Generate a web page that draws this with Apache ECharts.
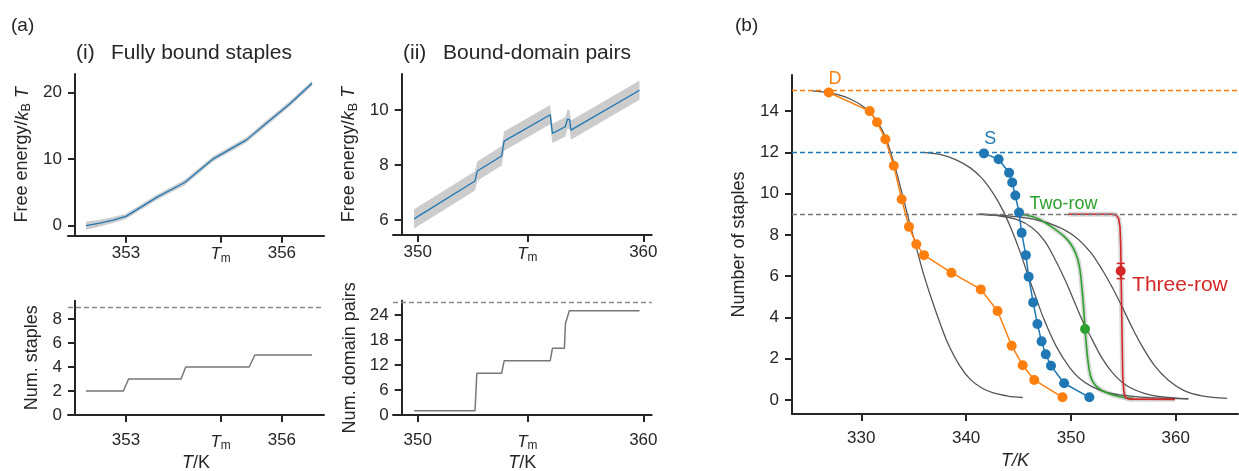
<!DOCTYPE html>
<html>
<head>
<meta charset="utf-8">
<script src="https://cdn.jsdelivr.net/npm/echarts@6/dist/echarts.min.js"></script>
<style>
html, body { margin: 0; padding: 0; background: #fff; }
#main { width: 1239px; height: 471px; }
</style>
</head>
<body>
<div id="main"></div>
<script>
// (a)(i) fully bound staples
var fe1T = [352.23, 352.5, 352.75, 353.0, 353.6, 354.13, 354.67, 355.32, 355.7, 356.15, 356.58]
var fe1 = [0.0, 0.4, 0.85, 1.4, 4.3, 6.5, 10.0, 12.9, 15.4, 18.3, 21.4]
var fe1Err = [0.6, 0.5, 0.45, 0.4, 0.4, 0.4, 0.4, 0.4, 0.4, 0.4, 0.4]
var stT = [352.23, 352.95, 353.05, 354.06, 354.15, 355.37, 355.48, 356.58]
var stN = [2, 2, 3, 3, 4, 4, 5, 5]
var stTotal = 9

// (a)(ii) bound-domain pairs
var fe2T = [349.84, 352.54, 352.64, 353.72, 353.83, 355.87, 355.97, 356.54, 356.64, 356.73, 356.79, 359.83]
var fe2 = [6.04, 7.42, 7.78, 8.33, 8.87, 9.83, 9.15, 9.39, 9.67, 9.65, 9.27, 10.72]
var fe2Err = [0.35, 0.35, 0.35, 0.35, 0.35, 0.35, 0.35, 0.35, 0.35, 0.35, 0.35, 0.35]
var dpT = [349.84, 352.54, 352.62, 353.72, 353.83, 355.87, 355.97, 356.5, 356.55, 356.62, 356.72, 359.83]
var dpN = [1, 1, 10, 10, 13, 13, 16, 16, 22, 22, 25, 25]
var dpTotal = 27

// melting temperature ticks
var tm1 = 354.82
var tm2 = 354.86
var ticks1X = [353, tm1, 356]
var ticks2X = [350, tm2, 360]
var ticks1Y = [0, 10, 20]
var ticks2Y = [6, 8, 10]
var ticks3Y = [0, 2, 4, 6, 8]
var ticks4Y = [0, 6, 12, 18, 24]

// (b) number of staples vs T
var dT = [326.9, 330.8, 331.5, 332.3, 333.1, 333.85, 334.55, 335.25, 335.98, 338.6, 341.4, 343.0, 344.35, 345.4, 346.5, 349.2]
var dN = [14.9, 14.0, 13.46, 12.64, 11.35, 9.73, 8.39, 7.55, 7.02, 6.17, 5.36, 4.31, 2.63, 1.68, 0.97, 0.13]
var sT = [341.7, 343.1, 344.1, 344.4, 344.7, 345.05, 345.3, 345.7, 345.97, 346.4, 346.8, 347.2, 347.6, 348.1, 349.35, 351.76]
var sN = [11.95, 11.67, 11.01, 10.54, 9.91, 9.09, 8.1, 7.02, 5.97, 4.73, 3.68, 2.84, 2.21, 1.66, 0.81, 0.13]
var twoT = [345.3, 346.8, 348.0, 349.3, 350.0, 350.5, 350.8, 351.0, 351.2, 351.35, 351.5, 351.66, 351.85, 352.1, 352.5, 353.0, 353.6, 354.3, 355.1, 355.96]
var twoN = [9.0, 8.8, 8.45, 7.95, 7.55, 7.05, 6.5, 5.7, 4.55, 3.45, 2.5, 1.75, 1.2, 0.88, 0.62, 0.45, 0.32, 0.2, 0.12, 0.08]
var twoPoint = [351.35, 3.44]
var threeT = [349.75, 353.9, 354.3, 354.55, 354.68, 354.75, 354.85, 354.94, 355.05, 355.2, 355.6, 359.93]
var threeN = [9.0, 9.0, 8.97, 8.8, 8.4, 7.5, 4.0, 1.2, 0.4, 0.12, 0.04, 0.03]
var threePoint = [354.75, 6.25]
var threeErr = 0.37
var fitDT = [325.3, 327.0, 328.9, 330.5, 331.5, 332.3, 333.1, 333.9, 334.6, 335.3, 336.0, 336.9, 337.6, 338.3, 339.4, 340.4, 341.5, 342.6, 344.0, 345.4]
var fitDN = [14.98, 14.88, 14.6, 14.1, 13.5, 12.75, 11.5, 10.0, 8.6, 7.3, 6.0, 4.6, 3.6, 2.7, 1.65, 1.0, 0.58, 0.34, 0.19, 0.12]
var fitST = [335.9, 337.5, 339.0, 340.4, 341.5, 342.6, 343.5, 344.3, 345.1, 345.8, 346.5, 347.4, 348.6, 349.9, 350.8, 352.0, 353.5, 355.5, 358.0, 361.2]
var fitSN = [12.0, 11.9, 11.65, 11.25, 10.75, 10.0, 9.2, 8.3, 7.25, 6.2, 5.2, 3.95, 2.6, 1.55, 1.05, 0.65, 0.36, 0.2, 0.1, 0.05]
var fitAT = [341.2, 343.0, 344.8, 346.3, 347.5, 348.6, 349.5, 350.3, 351.1, 352.0, 353.0, 354.0, 355.3, 357.0, 358.7, 361.2]
var fitAN = [9.0, 8.93, 8.75, 8.35, 7.7, 6.7, 5.75, 4.8, 3.85, 2.95, 2.0, 1.3, 0.7, 0.32, 0.15, 0.05]
var fitBT = [341.2, 344.0, 346.5, 348.5, 350.3, 351.8, 353.0, 354.0, 354.9, 355.8, 356.8, 358.0, 359.3, 360.8, 362.5, 364.9]
var fitBN = [9.0, 8.92, 8.75, 8.45, 7.95, 7.2, 6.3, 5.4, 4.5, 3.55, 2.6, 1.65, 0.95, 0.45, 0.2, 0.08]
var dTotal = 15
var sTotal = 12
var rowTotal = 9
var ticksBX = [330, 340, 350, 360]
var ticksBY = [0, 2, 4, 6, 8, 10, 12, 14]

var font = 'Liberation Sans, Arial, Helvetica, sans-serif'
var ink = '#262626'
var blue = '#1f77b4'
var orange = '#ff7f0e'
var green = '#2ca02c'
var red = '#d62728'
var fitGrey = '#555555'

var pairs = (xs, ys) => xs.map((x, i) => [x, ys[i]])

var richText = (size) => {
    return {
        n: {fontSize: size, fontFamily: font, color: ink},
        i: {fontSize: size, fontFamily: font, color: ink, fontStyle: 'italic'},
        s: {fontSize: size * 0.7, fontFamily: font, color: ink, padding: [8, 0, 0, 0]},
    }
}

var xAxisOf = (gi, min, max, ticks, tm, name, nameGap, margin) => {
    return {
        type: 'value',
        gridIndex: gi,
        min: min,
        max: max,
        name: name,
        nameLocation: 'middle',
        nameGap: nameGap,
        nameTextStyle: {fontSize: 18, fontFamily: font, color: ink, rich: richText(18)},
        axisLine: {show: true, onZero: false, lineStyle: {color: ink, width: 2}},
        axisTick: {show: true, length: 7, customValues: ticks, lineStyle: {color: ink, width: 2}},
        axisLabel: {
            customValues: ticks,
            margin: margin,
            fontSize: 17,
            fontFamily: font,
            color: ink,
            rich: richText(17),
            formatter: (v) => {
                if (tm && Math.abs(v - tm) < 0.001) {
                    return '{i|T}{s|m}'
                }
                return '{n|' + v + '}'
            },
        },
        splitLine: {show: false},
    }
}

var yAxisOf = (gi, min, max, ticks, offset, name, nameGap) => {
    return {
        type: 'value',
        gridIndex: gi,
        min: min,
        max: max,
        offset: offset,
        name: name,
        nameLocation: 'middle',
        nameRotate: 90,
        nameGap: nameGap,
        nameTextStyle: {fontSize: 18, fontFamily: font, color: ink, rich: richText(18)},
        axisLine: {show: true, onZero: false, lineStyle: {color: ink, width: 2}},
        axisTick: {show: true, length: 7, customValues: ticks, lineStyle: {color: ink, width: 2}},
        axisLabel: {customValues: ticks, margin: 13, fontSize: 17, fontFamily: font, color: ink},
        splitLine: {show: false},
    }
}

var bandSeries = (gi, ts, mids, errs) => {
    var data = ts.map((t, i) => [t, mids[i] - errs[i], mids[i] + errs[i]])
    return {
        type: 'custom',
        xAxisIndex: gi,
        yAxisIndex: gi,
        silent: true,
        z: 1,
        encode: {x: 0, y: [1, 2]},
        data: data,
        renderItem: (params, api) => {
            if (params.dataIndex !== 0) {
                return
            }
            var up = data.map(d => api.coord([d[0], d[2]]))
            var lo = data.map(d => api.coord([d[0], d[1]])).reverse()
            return {
                type: 'polygon',
                shape: {points: up.concat(lo)},
                style: {fill: '#cccccc'},
            }
        },
    }
}

var lineSeries = (gi, ts, vs, color, width, extra) => {
    var s = {
        type: 'line',
        xAxisIndex: gi,
        yAxisIndex: gi,
        data: pairs(ts, vs),
        showSymbol: false,
        symbol: 'none',
        silent: true,
        lineStyle: {color: color, width: width},
        itemStyle: {color: color},
        z: 3,
    }
    return Object.assign(s, extra || {})
}

var dashed = (value, color) => {
    return {
        yAxis: value,
        lineStyle: {color: color, width: 1.3, type: [5, 3]},
    }
}

var markLineOf = (lines) => {
    return {
        silent: true,
        symbol: 'none',
        label: {show: false},
        data: lines,
    }
}

var tagOf = (text, coord, color, size) => {
    return {
        silent: true,
        symbol: 'circle',
        symbolSize: 1,
        itemStyle: {color: 'rgba(0,0,0,0)'},
        label: {show: true, position: 'inside', formatter: text, color: color, fontSize: size, fontFamily: font},
        data: [{coord: coord}],
    }
}

var errorBarSeries = (pt, err, color) => {
    return {
        type: 'custom',
        xAxisIndex: 4,
        yAxisIndex: 4,
        silent: true,
        z: 6,
        data: [[pt[0], pt[1], err]],
        renderItem: (params, api) => {
            var x = api.value(0)
            var y = api.value(1)
            var e = api.value(2)
            var top = api.coord([x, y + e])
            var bot = api.coord([x, y - e])
            var st = {stroke: color, lineWidth: 1.5}
            return {
                type: 'group',
                children: [
                    {type: 'line', shape: {x1: top[0], y1: top[1], x2: bot[0], y2: bot[1]}, style: st},
                    {type: 'line', shape: {x1: top[0] - 4, y1: top[1], x2: top[0] + 4, y2: top[1]}, style: st},
                    {type: 'line', shape: {x1: bot[0] - 4, y1: bot[1], x2: bot[0] + 4, y2: bot[1]}, style: st},
                ],
            }
        },
    }
}

var textOf = (text, x, y, size) => {
    return {
        type: 'text',
        left: x,
        top: y,
        style: {text: text, fill: ink, fontSize: size, fontFamily: font},
    }
}

var feName = '{n|Free energy/}{i|k}{s|B}{i| T}'
var tkName = '{i|T}{n|/K}'

var showChart = () => {
    var element = document.querySelector('#main')
    var chart = echarts.init(element, null, {renderer: 'canvas'})
    var grid = (left, top, width, height) => {
        return {left: left, top: top, width: width, height: height, containLabel: false, outerBoundsMode: 'none'}
    }
    var smoothFit = {smooth: 0.35}
    var option = {
        animation: false,
        backgroundColor: '#ffffff',
        textStyle: {fontFamily: font},
        grid: [
            grid(68, 74, 256, 161.7),
            grid(393, 74, 258.7, 161),
            grid(68, 300.7, 256, 114.3),
            grid(393, 300.7, 258.7, 114.3),
            grid(792, 75, 446, 339),
        ],
        xAxis: [
            xAxisOf(0, 351.885, 356.81, ticks1X, tm1, '', 30, 9),
            xAxisOf(1, 348.905, 360.37, ticks2X, tm2, '', 30, 9),
            xAxisOf(2, 351.885, 356.81, ticks1X, tm1, tkName, 39, 17),
            xAxisOf(3, 348.905, 360.37, ticks2X, tm2, tkName, 39, 17),
            xAxisOf(4, 323.39, 365.94, ticksBX, null, '{i|T/K}', 33, 16),
        ],
        yAxis: [
            yAxisOf(0, -1.5, 22.8, ticks1Y, -7, feName, 42),
            yAxisOf(1, 5.455, 11.31, ticks2Y, -8.7, feName, 42),
            yAxisOf(2, 0, 9.525, ticks3Y, -7, '{n|Num. staples}', 34),
            yAxisOf(3, 0, 27.43, ticks4Y, -8.7, '{n|Num. domain pairs}', 43),
            yAxisOf(4, -0.68, 15.75, ticksBY, 0, '{n|Number of staples}', 44),
        ],
        graphic: [
            textOf('(a)', 11, 16, 19),
            textOf('(b)', 735, 16, 19),
            textOf('(i)', 76, 43, 21),
            textOf('Fully bound staples', 111, 43, 21),
            textOf('(ii)', 403, 43, 21),
            textOf('Bound-domain pairs', 443, 43, 21),
        ],
        series: [
            bandSeries(0, fe1T, fe1, fe1Err),
            lineSeries(0, fe1T, fe1, blue, 1.3),
            bandSeries(1, fe2T, fe2, fe2Err),
            lineSeries(1, fe2T, fe2, blue, 1.3),
            lineSeries(2, stT, stN, '#777777', 1.5, {markLine: markLineOf([dashed(stTotal, '#888888')])}),
            lineSeries(3, dpT, dpN, '#777777', 1.5, {markLine: markLineOf([dashed(dpTotal, '#888888')])}),

            // fits
            lineSeries(4, fitDT, fitDN, fitGrey, 1.3, smoothFit),
            lineSeries(4, fitST, fitSN, fitGrey, 1.3, smoothFit),
            lineSeries(4, fitAT, fitAN, fitGrey, 1.3, smoothFit),
            lineSeries(4, fitBT, fitBN, fitGrey, 1.3, smoothFit),

            // two-row and three-row curves with halo
            lineSeries(4, twoT, twoN, 'rgba(150,150,150,0.35)', 5, Object.assign({z: 2}, smoothFit)),
            lineSeries(4, twoT, twoN, green, 1.6, Object.assign({
                markLine: markLineOf([dashed(rowTotal, '#777777')]),
                markPoint: tagOf('Two-row', [349.3, 9.49], green, 18),
            }, smoothFit)),
            {
                type: 'scatter', xAxisIndex: 4, yAxisIndex: 4, silent: true, z: 6,
                symbolSize: 10, itemStyle: {color: green, opacity: 1}, data: [twoPoint],
            },
            lineSeries(4, threeT, threeN, 'rgba(150,150,150,0.35)', 5, {z: 2}),
            lineSeries(4, threeT, threeN, red, 1.6, {
                markPoint: tagOf('Three-row', [360.4, 5.57], red, 21),
            }),
            errorBarSeries(threePoint, threeErr, red),
            {
                type: 'scatter', xAxisIndex: 4, yAxisIndex: 4, silent: true, z: 6,
                symbolSize: 10, itemStyle: {color: red, opacity: 1}, data: [threePoint],
            },

            // measured curves
            lineSeries(4, dT, dN, orange, 1.5, {
                showSymbol: true, symbol: 'circle', symbolSize: 10, z: 5,
                markLine: markLineOf([dashed(dTotal, orange)]),
                markPoint: tagOf('D', [327.5, 15.57], orange, 18),
            }),
            lineSeries(4, sT, sN, blue, 1.5, {
                showSymbol: true, symbol: 'circle', symbolSize: 10, z: 5,
                markLine: markLineOf([dashed(sTotal, blue)]),
                markPoint: tagOf('S', [342.3, 12.67], blue, 18),
            }),
        ],
    }
    chart.setOption(option)
}

var __main = () => {
    showChart()
}
__main()
</script>
</body>
</html>
